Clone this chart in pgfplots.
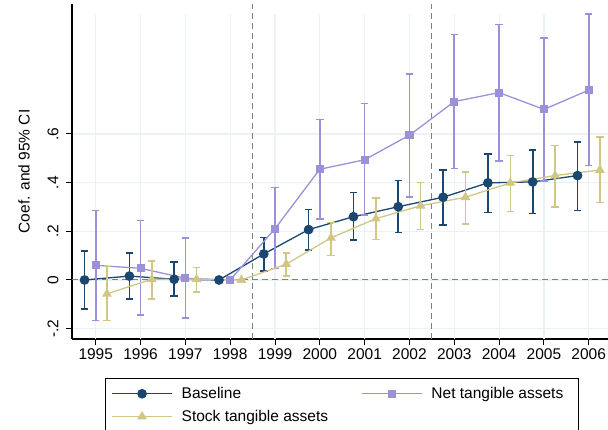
\documentclass[border=0pt]{standalone}
\usepackage{pgfplots}
\pgfplotsset{compat=1.18}
\usepackage{pgfplotstable}
\usepackage{fontspec}
\setmainfont{Liberation Sans}
\newcommand\ff{\fontsize{15.5pt}{18pt}\selectfont}
\definecolor{navy}{RGB}{26,71,111}
\definecolor{lav}{RGB}{155,145,218}
\definecolor{khaki}{RGB}{208,198,133}
\definecolor{gridc}{RGB}{234,242,243}
\definecolor{refc}{RGB}{128,128,128}

\pgfplotstableread{
x y lo hi
1994.75 0.000 -0.120 0.120
1995.75 0.016 -0.078 0.110
1996.75 0.003 -0.066 0.075
1997.75 0.000 0.000 0.000
1998.75 0.107 0.038 0.175
1999.75 0.207 0.123 0.290
2000.75 0.260 0.164 0.359
2001.75 0.301 0.195 0.408
2002.75 0.340 0.226 0.452
2003.75 0.399 0.278 0.518
2004.75 0.403 0.273 0.533
2005.75 0.429 0.286 0.567
}\base
\pgfplotstableread{
x y lo hi
1995 0.060 -0.167 0.285
1996 0.048 -0.145 0.244
1997 0.007 -0.155 0.173
1998 0.000 0.000 0.000
1999 0.211 0.047 0.380
2000 0.455 0.250 0.660
2001 0.494 0.267 0.725
2002 0.595 0.342 0.847
2003 0.733 0.458 1.008
2004 0.770 0.490 1.049
2005 0.701 0.407 0.995
2006 0.780 0.470 1.093
}\net
\pgfplotstableread{
x y lo hi
1995.25 -0.057 -0.167 0.055
1996.25 0.003 -0.078 0.079
1997.25 0.003 -0.049 0.052
1998.25 0.000 0.000 0.000
1999.25 0.065 0.016 0.111
2000.25 0.173 0.101 0.236
2001.25 0.252 0.167 0.337
2002.25 0.305 0.207 0.401
2003.25 0.340 0.231 0.444
2004.25 0.399 0.281 0.511
2005.25 0.429 0.300 0.552
2006.25 0.452 0.318 0.588
}\stock

\begin{document}
\begin{tikzpicture}
\begin{axis}[
  at={(0pt,0pt)}, anchor=south west,
  scale only axis, width=536pt, height=335pt,
  xmin=1994.47, xmax=2006.43, ymin=-0.2425, ymax=1.134,
  axis lines=left, axis line style={-, line width=1.1pt, black},
  tick align=outside, tick pos=left,
  major tick length=6pt, tick style={black, line width=1pt},
  xtick={1995,1996,1997,1998,1999,2000,2001,2002,2003,2004,2005,2006},
  xticklabels={1995,1996,1997,1998,1999,2000,2001,2002,2003,2004,2005,2006},
  ytick={-0.2,0,0.2,0.4,0.6},
  yticklabels={-.2,0,.2,.4,.6},
  xticklabel style={font=\ff},
  yticklabel style={font=\ff, rotate=90, anchor=south},
  yticklabel shift=4pt,
  ylabel={Coef. and 95\% CI},
  ylabel style={font=\ff, at={(axis description cs:-0.0896,0.5)}, anchor=center},
  ymajorgrids, grid style={gridc, line width=1.2pt},
  legend columns=2,
  legend cell align=left,
  legend image code/.code={\draw[mark repeat=2,mark phase=2,#1] plot coordinates {(0pt,0pt) (30pt,0pt) (60pt,0pt)};},
  legend style={at={(0.0616,-0.1164)}, anchor=north west, draw=black, line width=0.8pt,
    font=\ff, inner xsep=6pt, inner ysep=8pt, row sep=8pt,
    nodes={inner xsep=9pt, inner ysep=1pt},
    /tikz/every even column/.append style={column sep=24pt}},
  error bars/y dir=both, error bars/y explicit,
]
\pgfplotsinvokeforeach{1995,1996,1997,1998,1999,2000,2001,2002,2003,2004,2005,2006}{
  \draw[gridc, line width=1.2pt] (axis cs:#1,-0.2425) -- (axis cs:#1,1.093);
}
\draw[refc, line width=1pt, dash pattern=on 6pt off 4pt] (axis cs:1994.47,0) -- (axis cs:2006.43,0);
\draw[refc, line width=1pt, dash pattern=on 6pt off 4pt] (axis cs:1998.5,-0.2425) -- (axis cs:1998.5,1.134);
\draw[refc, line width=1pt, dash pattern=on 6pt off 4pt] (axis cs:2002.5,-0.2425) -- (axis cs:2002.5,1.134);

\addplot[navy, line width=1.3pt, mark=*, mark size=4.2pt,
  error bars/error bar style={line width=1.6pt, navy},
  error bars/error mark options={line width=1.6pt, navy, mark size=3.7pt, rotate=90}]
  table[x=x, y=y, y error plus expr=\thisrow{hi}-\thisrow{y}, y error minus expr=\thisrow{y}-\thisrow{lo}] {\base};
\addlegendentry{Baseline}
\addplot[lav, line width=1.3pt, mark=square*, mark size=3.4pt,
  error bars/error bar style={line width=1.6pt, lav},
  error bars/error mark options={line width=1.6pt, lav, mark size=3.7pt, rotate=90}]
  table[x=x, y=y, y error plus expr=\thisrow{hi}-\thisrow{y}, y error minus expr=\thisrow{y}-\thisrow{lo}] {\net};
\addlegendentry{Net tangible assets}
\addplot[khaki, line width=1.3pt, mark=triangle*, mark size=4.3pt,
  error bars/error bar style={line width=1.6pt, khaki},
  error bars/error mark options={line width=1.6pt, khaki, mark size=3.7pt, rotate=90}]
  table[x=x, y=y, y error plus expr=\thisrow{hi}-\thisrow{y}, y error minus expr=\thisrow{y}-\thisrow{lo}] {\stock};
\addlegendentry{Stock tangible assets}
\end{axis}
\pgfresetboundingbox
\path[use as bounding box] (-72pt,-91pt) rectangle (536pt,339pt);
\end{tikzpicture}
\end{document}
